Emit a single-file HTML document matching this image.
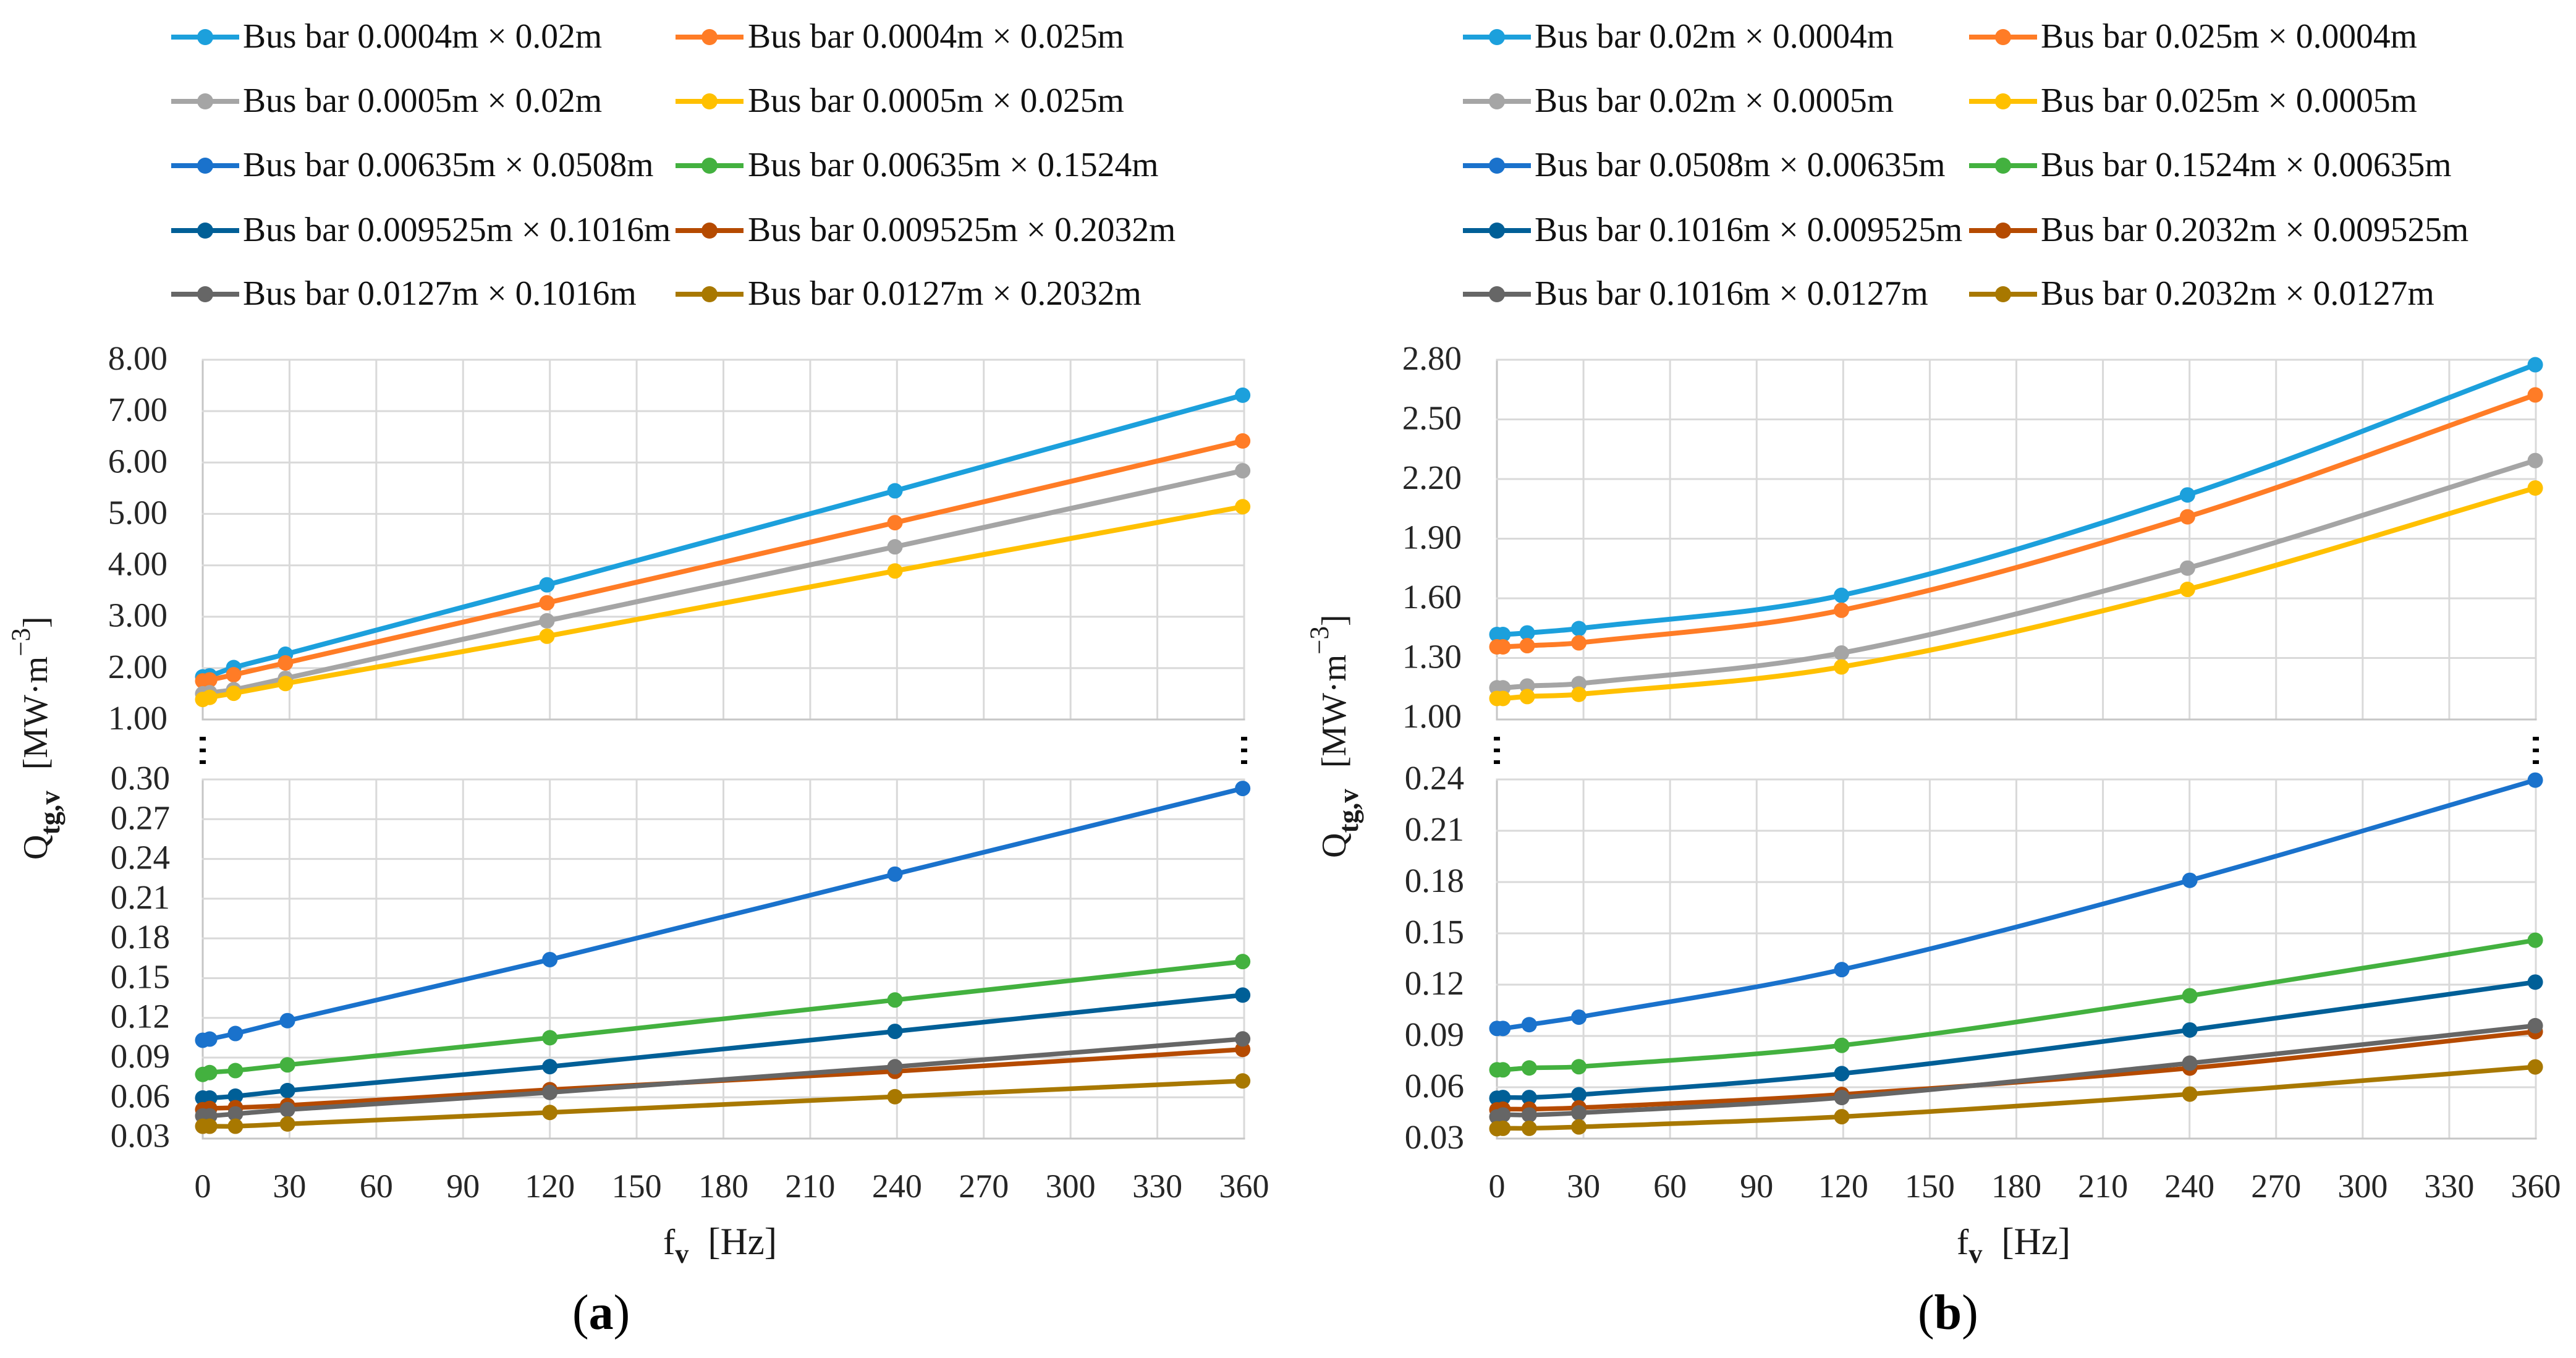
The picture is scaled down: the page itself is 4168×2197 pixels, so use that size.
<!DOCTYPE html>
<html lang="en">
<head>
<meta charset="utf-8">
<title>Bus bar Qtg,v versus fv</title>
<style>
html,body{margin:0;padding:0;background:#fff;}
svg{display:block;font-family:"Liberation Serif",serif;}
</style>
</head>
<body>
<svg id="figure" xmlns="http://www.w3.org/2000/svg" width="4168" height="2197" viewBox="0 0 4168 2197">
  <rect x="0" y="0" width="4168" height="2197" fill="#ffffff"/>

  <text transform="translate(76,1391) rotate(-90)" font-size="56" fill="#1a1a1a">Q<tspan dy="20" font-size="45" font-weight="bold">tg,v</tspan><tspan dy="-20" dx="34">[MW·m</tspan><tspan dy="-28" font-size="43">−3</tspan><tspan dy="28">]</tspan></text>
  <text x="1073" y="2029" font-size="58" fill="#1a1a1a">f<tspan dy="14" font-size="44" font-weight="bold">v</tspan><tspan dy="-14" dx="31" font-size="61">[Hz]</tspan></text>
  <text x="926" y="2150" font-size="80" fill="#000">(<tspan font-weight="bold">a</tspan>)</text>

  <text transform="translate(2177,1388) rotate(-90)" font-size="56" fill="#1a1a1a">Q<tspan dy="20" font-size="45" font-weight="bold">tg,v</tspan><tspan dy="-20" dx="34">[MW·m</tspan><tspan dy="-28" font-size="43">−3</tspan><tspan dy="28">]</tspan></text>
  <text x="3166" y="2029" font-size="58" fill="#1a1a1a">f<tspan dy="14" font-size="44" font-weight="bold">v</tspan><tspan dy="-14" dx="31" font-size="61">[Hz]</tspan></text>
  <text x="3103" y="2150" font-size="80" fill="#000">(<tspan font-weight="bold">b</tspan>)</text>
</svg>

<script>
// ---------- categories / tick labels ----------
const xTickLabels = [0, 30, 60, 90, 120, 150, 180, 210, 240, 270, 300, 330, 360];
const yTicksAUpper = ['1.00', '2.00', '3.00', '4.00', '5.00', '6.00', '7.00', '8.00'];
const yTicksALower = ['0.03', '0.06', '0.09', '0.12', '0.15', '0.18', '0.21', '0.24', '0.27', '0.30'];
const yTicksBUpper = ['1.00', '1.30', '1.60', '1.90', '2.20', '2.50', '2.80'];
const yTicksBLower = ['0.03', '0.06', '0.09', '0.12', '0.15', '0.18', '0.21', '0.24'];

const legendLabelsA = [
  'Bus bar 0.0004m × 0.02m', 'Bus bar 0.0004m × 0.025m',
  'Bus bar 0.0005m × 0.02m', 'Bus bar 0.0005m × 0.025m',
  'Bus bar 0.00635m × 0.0508m', 'Bus bar 0.00635m × 0.1524m',
  'Bus bar 0.009525m × 0.1016m', 'Bus bar 0.009525m × 0.2032m',
  'Bus bar 0.0127m × 0.1016m', 'Bus bar 0.0127m × 0.2032m'
];
const legendLabelsB = [
  'Bus bar 0.02m × 0.0004m', 'Bus bar 0.025m × 0.0004m',
  'Bus bar 0.02m × 0.0005m', 'Bus bar 0.025m × 0.0005m',
  'Bus bar 0.0508m × 0.00635m', 'Bus bar 0.1524m × 0.00635m',
  'Bus bar 0.1016m × 0.009525m', 'Bus bar 0.2032m × 0.009525m',
  'Bus bar 0.1016m × 0.0127m', 'Bus bar 0.2032m × 0.0127m'
];

const seriesColors = ['#1CA0DC', '#FF7C26', '#A5A5A5', '#FFC000', '#1A72CC', '#43B13F', '#005F97', '#B54A00', '#666666', '#A87800'];

// ---------- frequency values (Hz) ----------
const fvAUpper = [0, 2.4, 10.7, 28.6, 119, 239.3, 359.5];
const fvALower = [0, 2.4, 11.3, 29.3, 120, 239.3, 359.5];
const fvBUpper = [0, 2.1, 10.5, 28.4, 119.4, 239.3, 359.8];
const fvBLower = [0, 2.1, 11.2, 28.4, 119.5, 240.1, 359.8];

// ---------- panel (a), upper range ----------
const a1 = [1.83, 1.85, 2.01, 2.27, 3.62, 5.45, 7.31];
const a2 = [1.75, 1.77, 1.87, 2.10, 3.27, 4.83, 6.42];
const a3 = [1.50, 1.52, 1.58, 1.80, 2.92, 4.36, 5.84];
const a4 = [1.39, 1.43, 1.51, 1.70, 2.62, 3.89, 5.14];

// ---------- panel (a), lower range ----------
const a5 = [0.1031, 0.104, 0.1082, 0.1179, 0.1640, 0.2285, 0.2932];
const a6 = [0.0773, 0.0787, 0.0802, 0.0845, 0.1050, 0.1335, 0.1625];
const a7 = [0.0595, 0.0595, 0.0609, 0.0651, 0.0832, 0.1098, 0.1372];
const a8 = [0.0507, 0.0516, 0.0522, 0.0539, 0.0658, 0.0796, 0.0962];
const a9 = [0.046, 0.046, 0.0475, 0.0507, 0.0637, 0.0831, 0.1041];
const a10 = [0.0382, 0.0382, 0.0382, 0.0399, 0.0486, 0.0605, 0.0724];

// ---------- panel (b), upper range ----------
const b1 = [1.418, 1.418, 1.426, 1.448, 1.615, 2.120, 2.775];
const b2 = [1.356, 1.356, 1.362, 1.376, 1.540, 2.010, 2.623];
const b3 = [1.15, 1.15, 1.159, 1.171, 1.325, 1.752, 2.293];
const b4 = [1.0965, 1.0965, 1.106, 1.117, 1.255, 1.645, 2.155];

// ---------- panel (b), lower range ----------
const b5 = [0.0944, 0.0944, 0.0966, 0.1010, 0.1288, 0.1810, 0.2396];
const b6 = [0.0702, 0.0702, 0.0713, 0.0720, 0.0845, 0.1135, 0.1460];
const b7 = [0.0536, 0.0540, 0.0540, 0.0556, 0.0680, 0.0935, 0.1215];
const b8 = [0.0468, 0.0472, 0.0472, 0.0480, 0.0558, 0.0712, 0.0925];
const b9 = [0.0427, 0.0438, 0.0438, 0.045, 0.0540, 0.0741, 0.0960];
const b10 = [0.0358, 0.0360, 0.0360, 0.0368, 0.0428, 0.056, 0.0719];

const NS = 'http://www.w3.org/2000/svg';
const svg = document.getElementById('figure');

function make(tag, attrs, parent) {
  const el = document.createElementNS(NS, tag);
  for (const k in attrs) el.setAttribute(k, attrs[k]);
  (parent || svg).appendChild(el);
  return el;
}

function smoothPath(pts) {
  const n = pts.length;
  const slope = [];
  for (let i = 0; i < n; i++) {
    const p0 = pts[Math.max(0, i - 1)];
    const p1 = pts[Math.min(n - 1, i + 1)];
    slope.push((p1[1] - p0[1]) / (p1[0] - p0[0]));
  }
  let d = 'M' + pts[0][0].toFixed(2) + ' ' + pts[0][1].toFixed(2);
  for (let i = 0; i < n - 1; i++) {
    const h = (pts[i + 1][0] - pts[i][0]) / 3;
    d += ' C' + (pts[i][0] + h).toFixed(2) + ' ' + (pts[i][1] + slope[i] * h).toFixed(2) +
         ' ' + (pts[i + 1][0] - h).toFixed(2) + ' ' + (pts[i + 1][1] - slope[i + 1] * h).toFixed(2) +
         ' ' + pts[i + 1][0].toFixed(2) + ' ' + pts[i + 1][1].toFixed(2);
  }
  return d;
}

function drawPanel(cfg) {
  const yVals = cfg.yTicks.map(parseFloat);
  const yMin = yVals[0];
  const yMax = yVals[yVals.length - 1];
  const xAxis = function (hz) { return cfg.left + hz * (cfg.right - cfg.left) / 360; };
  const yAxis = function (v) { return cfg.top + (yMax - v) * (cfg.scaleBottom - cfg.top) / (yMax - yMin); };

  const group = make('g', {});
  
  

  // vertical grid
  xTickLabels.forEach(function (t) {
    const x = xAxis(t);
    const line = make('line', { x1: x, x2: x, y1: cfg.top, y2: cfg.bottom, stroke: t === 0 ? '#C6C6C6' : '#D9D9D9', 'stroke-width': 3 }, group);
    
    
  });

  // horizontal grid + y labels
  cfg.yTicks.forEach(function (label, i) {
    const v = yVals[i];
    const y = i === 0 ? cfg.bottom : yAxis(v);
    const line = make('line', { x1: cfg.left - 1.5, x2: cfg.right + 1.5, y1: y, y2: y, stroke: i === 0 ? '#C6C6C6' : '#D9D9D9', 'stroke-width': 3 }, group);
    
    
    const txt = make('text', { x: cfg.left + cfg.labelOffset, y: yAxis(v) + 16, 'text-anchor': 'end', 'font-size': 55, fill: '#262626' }, group);
    txt.textContent = label;
    
    
  });

  // x labels
  if (cfg.showX) {
    xTickLabels.forEach(function (t) {
      const txt = make('text', { x: xAxis(t), y: 1937, 'text-anchor': 'middle', 'font-size': 54, fill: '#262626' }, group);
      txt.textContent = String(t);
      
      
    });
  }

  // series
  cfg.series.forEach(function (values, idx) {
    const color = seriesColors[cfg.colorOffset + idx];
    const pts = values.map(function (v, i) { return [xAxis(cfg.fv[i]), yAxis(v)]; });
    const sg = make('g', {}, group);
    
    
    const path = make('path', { d: smoothPath(pts), fill: 'none', stroke: color, 'stroke-width': cfg.lineWidth, 'stroke-linejoin': 'round' }, sg);
    
    
    pts.forEach(function (p) {
      const dot = make('circle', { cx: p[0], cy: p[1], r: 12.5, fill: color }, sg);
      
      
    });
  });
}

function drawBreakDots(x) {
  [1195, 1214, 1233].forEach(function (y) {
    const r = make('rect', { x: x - 5, y: y - 3, width: 10, height: 6, fill: '#000' });
    
    
  });
}

function drawLegend(labels, swatch1, text1, swatch2, text2) {
  const rowY = [60, 164, 268, 373, 476];
  labels.forEach(function (label, i) {
    const row = Math.floor(i / 2);
    const col = i % 2;
    const sx = col === 0 ? swatch1 : swatch2;
    const tx = col === 0 ? text1 : text2;
    const y = rowY[row];
    const g = make('g', {});
    
    
    const ln = make('line', { x1: sx, x2: sx + 110, y1: y, y2: y, stroke: seriesColors[i], 'stroke-width': 8 }, g);
    
    
    const c = make('circle', { cx: sx + 55, cy: y, r: 13, fill: seriesColors[i] }, g);
    
    
    const t = make('text', { x: tx, y: y + 17, 'font-size': 55.6, fill: '#111' }, g);
    t.textContent = label;
    
    
  });
}

drawPanel({ name: 'chart-a-upper', left: 328, right: 2013, top: 582, bottom: 1164, scaleBottom: 1164, yTicks: yTicksAUpper, fv: fvAUpper, series: [a1, a2, a3, a4], colorOffset: 0, lineWidth: 8, labelOffset: -57, showX: false });
drawPanel({ name: 'chart-a-lower', left: 328, right: 2013, top: 1261, bottom: 1842, scaleBottom: 1839.6, yTicks: yTicksALower, fv: fvALower, series: [a5, a6, a7, a8, a9, a10], colorOffset: 4, lineWidth: 7.5, labelOffset: -53, showX: true });
drawPanel({ name: 'chart-b-upper', left: 2422, right: 4103, top: 582, bottom: 1164, scaleBottom: 1161, yTicks: yTicksBUpper, fv: fvBUpper, series: [b1, b2, b3, b4], colorOffset: 0, lineWidth: 8, labelOffset: -57, showX: false });
drawPanel({ name: 'chart-b-lower', left: 2422, right: 4103, top: 1261, bottom: 1842, scaleBottom: 1842, yTicks: yTicksBLower, fv: fvBLower, series: [b5, b6, b7, b8, b9, b10], colorOffset: 4, lineWidth: 7.5, labelOffset: -53, showX: true });

[328, 2013, 2422, 4103].forEach(drawBreakDots);

drawLegend(legendLabelsA, 277, 393, 1093, 1210);
drawLegend(legendLabelsB, 2367, 2483, 3186, 3302);
</script>
</body>
</html>
